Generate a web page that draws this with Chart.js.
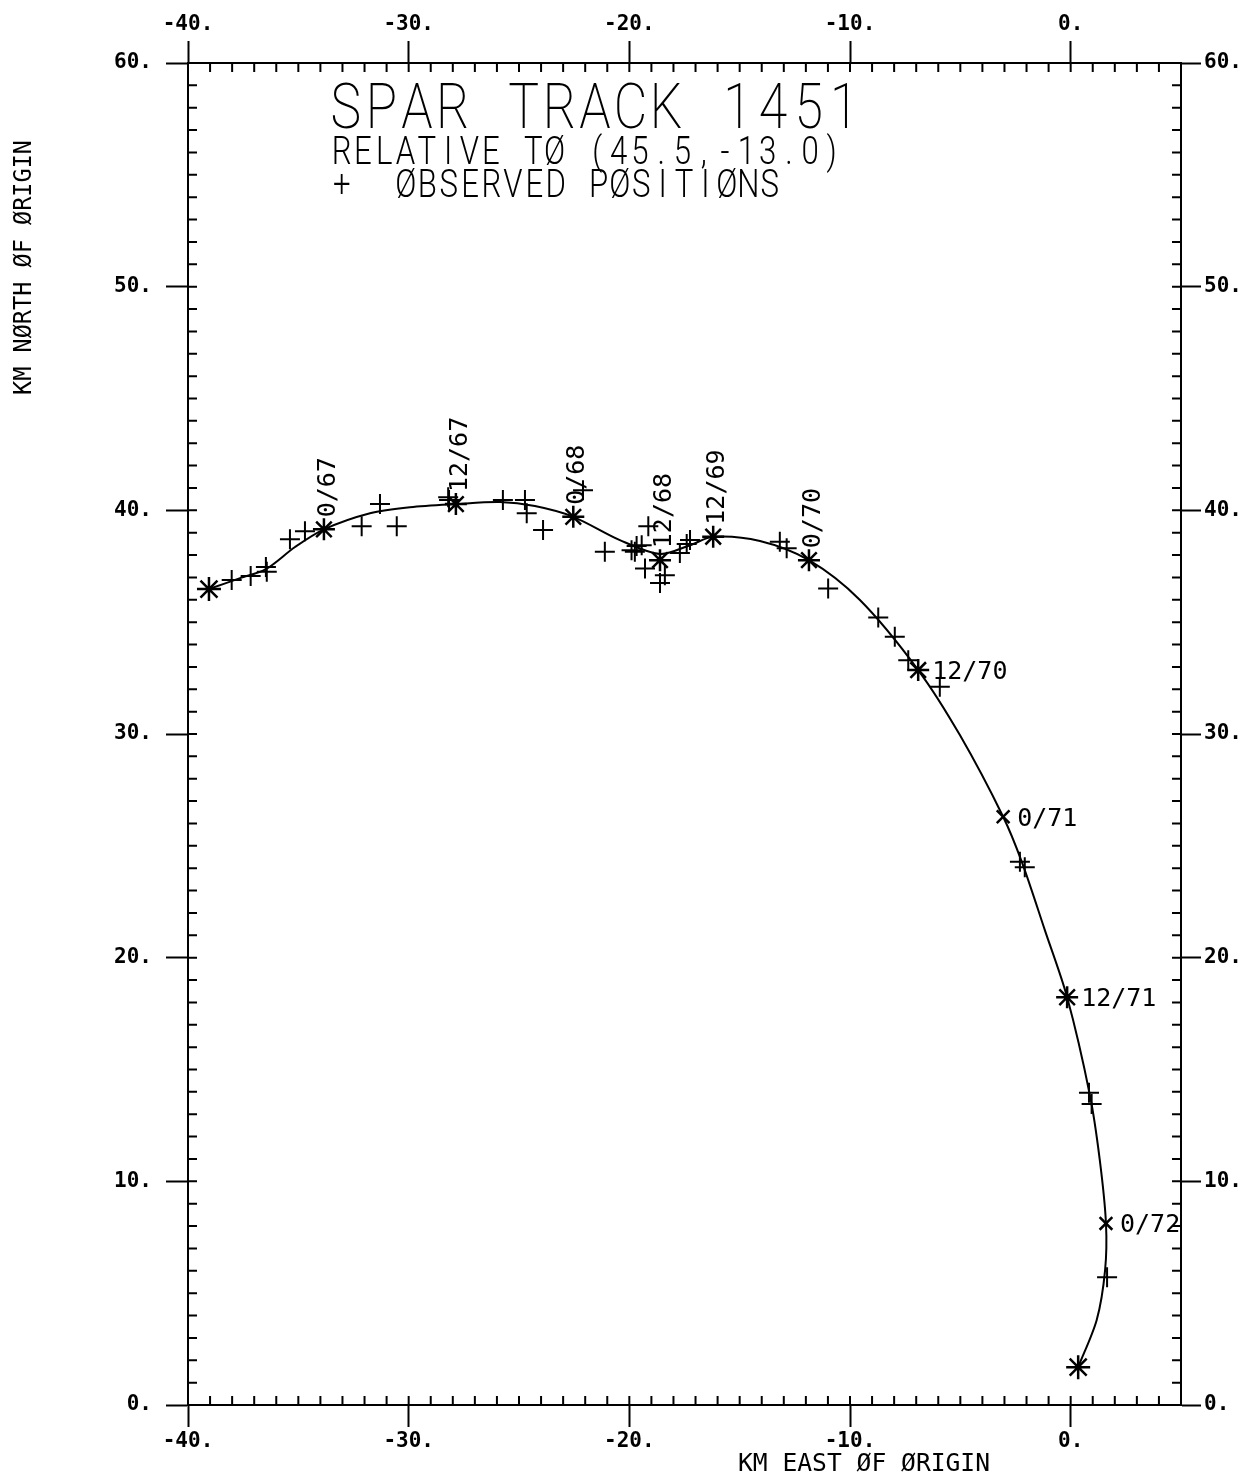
<!DOCTYPE html>
<html>
<head>
<meta charset="utf-8">
<script src="https://cdn.jsdelivr.net/npm/chart.js@4.4.0/dist/chart.umd.min.js"></script>
<style>
  html, body { margin: 0; padding: 0; background: #fff; }
  #wrap { width: 1255px; height: 1477px; }
</style>
</head>
<body>
<div id="wrap"><canvas id="spar" width="1255" height="1477"></canvas></div>
<script>
// smoothed track, km east / north of origin
const trackX = [-39.05, -37.64, -36.47, -35.15, -33.84, -31.75, -29.94, -27.86, -25.86, -24.28, -22.54, -20.43, -18.61, -17.25, -16.20, -14.08, -11.86, -9.55, -6.91, -5.02, -3.06, -2.21, -1.17, -0.16, 0.87, 1.32, 1.60, 1.56, 1.18, 0.34];
const trackY = [36.48, 36.97, 37.37, 38.36, 39.15, 39.87, 40.14, 40.28, 40.37, 40.19, 39.71, 38.67, 38.05, 38.44, 38.82, 38.63, 37.77, 35.99, 32.86, 29.95, 26.30, 24.27, 21.23, 18.23, 13.86, 10.95, 8.12, 6.03, 3.80, 1.69];

// observed positions (+)
const obsX = [-38.02, -37.16, -36.47, -36.43, -35.38, -34.70, -32.13, -31.30, -30.54, -28.21, -28.17, -25.73, -24.73, -24.65, -23.91, -22.10, -21.11, -19.90, -19.67, -19.75, -19.14, -19.29, -18.39, -18.61, -19.44, -17.25, -17.40, -17.71, -13.18, -12.87, -10.99, -8.72, -7.97, -7.36, -5.93, -2.30, -2.08, 0.83, 0.95, 1.65];
const obsY = [36.88, 37.06, 37.47, 37.25, 38.71, 39.07, 39.29, 40.28, 39.29, 40.59, 40.46, 40.46, 40.46, 39.87, 39.12, 40.90, 38.15, 38.22, 38.40, 38.15, 39.29, 37.40, 37.10, 36.75, 38.44, 38.67, 38.49, 38.09, 38.59, 38.30, 36.51, 35.21, 34.35, 33.30, 32.11, 24.29, 24.04, 13.96, 13.46, 5.71];

// time marks on the track
const markX = [-39.05, -33.84, -27.86, -22.54, -18.61, -16.20, -11.86, -6.91, -3.06, -0.16, 1.60, 0.34];
const markY = [36.48, 39.15, 40.28, 39.71, 37.77, 38.82, 37.77, 32.86, 26.30, 18.23, 8.12, 1.69];
const markLabels = ['', '0/67', '12/67', '0/68', '12/68', '12/69', '0/70', '12/70', '0/71', '12/71', '0/72', ''];

const xTicks = [-40, -30, -20, -10, 0];
const yTicks = [0, 10, 20, 30, 40, 50, 60];

const MONO = '"DejaVu Sans Mono", monospace';

function fitText(ctx, str, x, y, w, font) {
    ctx.font = font;
    const m = ctx.measureText(str).width;
    ctx.save();
    ctx.translate(x, y);
    ctx.scale(w / m, 1);
    ctx.fillText(str, 0, 0);
    ctx.restore();
}

// plotter style lettering: one glyph per fixed cell, squeezed a little
function monoText(ctx, str, x, y, advance, font, squeeze) {
    ctx.font = font;
    ctx.save();
    ctx.textAlign = 'center';
    for (let i = 0; i < str.length; i++) {
        ctx.save();
        ctx.translate(x + advance * (i + 0.5), y);
        ctx.scale(squeeze, 1);
        ctx.fillText(str[i], 0, 0);
        ctx.restore();
    }
    ctx.restore();
}

// short inward ticks every km on all four sides
const minorTicks = {
    id: 'minorTicks',
    afterDraw(chart) {
        const ctx = chart.ctx, a = chart.chartArea;
        const sx = chart.scales.x, sy = chart.scales.y;
        ctx.save();
        ctx.strokeStyle = '#000';
        ctx.lineWidth = 2;
        ctx.beginPath();
        for (let v = sx.min; v <= sx.max; v++) {
            const px = sx.getPixelForValue(v);
            ctx.moveTo(px, a.top); ctx.lineTo(px, a.top + 9);
            ctx.moveTo(px, a.bottom); ctx.lineTo(px, a.bottom - 9);
        }
        for (let v = sy.min; v <= sy.max; v++) {
            const py = sy.getPixelForValue(v);
            ctx.moveTo(a.left, py); ctx.lineTo(a.left + 9, py);
            ctx.moveTo(a.right, py); ctx.lineTo(a.right - 9, py);
        }
        ctx.stroke();
        ctx.restore();
    }
};

// title block, axis names and the date labels on the marks
const annotations = {
    id: 'annotations',
    afterDraw(chart, args, opts) {
        const ctx = chart.ctx;
        ctx.save();
        ctx.fillStyle = '#000';
        ctx.textAlign = 'left';
        ctx.textBaseline = 'alphabetic';

        monoText(ctx, 'SPAR TRACK 1451', 328, 128, 35.6, '200 63px Roboto, sans-serif', 0.82);
        monoText(ctx, 'RELATIVE TØ (45.5,-13.0)', 331, 164, 21.3, '300 39px Roboto, sans-serif', 0.8);
        monoText(ctx, '+  ØBSERVED PØSITIØNS', 331, 197, 21.4, '300 39px Roboto, sans-serif', 0.8);

        fitText(ctx, 'KM EAST ØF ØRIGIN', 738, 1471, 252, '24px ' + MONO);
        ctx.save();
        ctx.translate(31, 395);
        ctx.rotate(-Math.PI / 2);
        fitText(ctx, 'KM NØRTH ØF ØRIGIN', 0, 0, 255, '24px ' + MONO);
        ctx.restore();

        const sx = chart.scales.x, sy = chart.scales.y;
        ctx.font = '25px ' + MONO;
        markLabels.forEach((lab, i) => {
            if (!lab) return;
            const px = sx.getPixelForValue(markX[i]);
            const py = sy.getPixelForValue(markY[i]);
            if (opts.vertical[i]) {
                ctx.save();
                ctx.translate(px + 11, py - 12);
                ctx.rotate(-Math.PI / 2);
                ctx.fillText(lab, 0, 0);
                ctx.restore();
            } else {
                ctx.fillText(lab, px + 14, py + 9);
            }
        });
        ctx.restore();
    }
};

function axis(position, ticks, min, max, size, pad, tickLen) {
    const horizontal = position === 'top' || position === 'bottom';
    return {
        type: 'linear',
        position: position,
        min: min,
        max: max,
        afterBuildTicks: s => { s.ticks = ticks.map(v => ({ value: v })); },
        afterFit: s => { if (horizontal) s.height = size; else s.width = size; },
        ticks: {
            callback: v => v + '.',
            color: '#000',
            font: { family: MONO, size: 21, weight: 'bold' },
            padding: pad,
            maxRotation: 0,
            autoSkip: false
        },
        grid: {
            drawOnChartArea: false,
            drawTicks: true,
            tickLength: tickLen,
            tickColor: '#000',
            tickWidth: 2
        },
        border: { display: true, color: '#000', width: 2 }
    };
}

new Chart(document.getElementById('spar'), {
    type: 'scatter',
    data: {
        datasets: [
            {
                label: 'track',
                data: trackX.map((x, i) => ({ x: x, y: trackY[i] })),
                showLine: true,
                borderColor: '#000',
                borderWidth: 2,
                pointRadius: 0,
                tension: 0.3
            },
            {
                label: 'observed positions',
                data: obsX.map((x, i) => ({ x: x, y: obsY[i] })),
                pointStyle: 'cross',
                pointRadius: 10,
                borderColor: '#000',
                borderWidth: 2
            },
            {
                label: 'time marks',
                data: markX.map((x, i) => ({ x: x, y: markY[i] })),
                pointStyle: ['star', 'star', 'star', 'star', 'star', 'star', 'star', 'star', 'crossRot', 'star', 'crossRot', 'star'],
                pointRadius: [12, 11, 11, 11, 11, 11, 11, 11, 9, 11, 9, 12],
                borderColor: '#000',
                borderWidth: 2.5
            }
        ]
    },
    options: {
        responsive: false,
        animation: false,
        devicePixelRatio: 1,
        layout: { padding: 0 },
        plugins: {
            legend: { display: false },
            tooltip: { enabled: false },
            annotations: {
                vertical: [false, true, true, true, true, true, true, false, false, false, false, false]
            }
        },
        scales: {
            x: axis('bottom', xTicks, -40, 5, 72, 2, 22),
            x2: axis('top', xTicks, -40, 5, 63, 4, 22),
            y: axis('left', yTicks, 0, 60, 188, 14, 22),
            y2: axis('right', yTicks, 0, 60, 74, 3, 20)
        }
    },
    plugins: [minorTicks, annotations]
});
</script>
</body>
</html>
